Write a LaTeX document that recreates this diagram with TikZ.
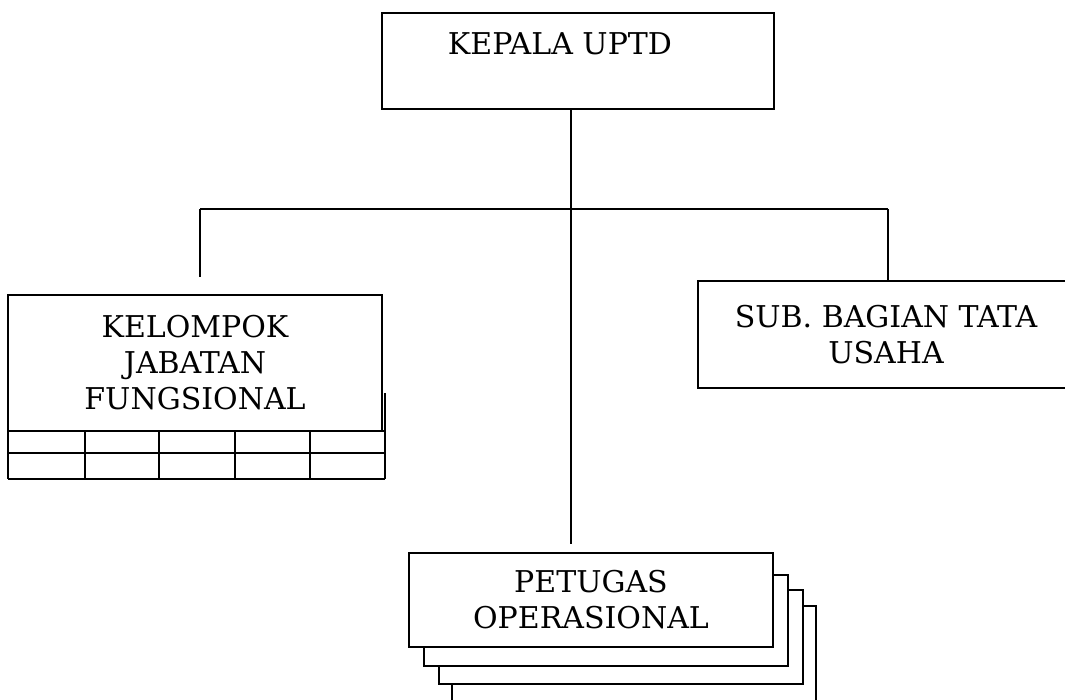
\documentclass[tikz,border=0pt]{standalone}
\usepackage{fontspec}
\setmainfont{DejaVu Serif}
\begin{document}
\begin{tikzpicture}[x=0.75pt,y=-0.75pt,
  box/.style={draw=black,line width=1pt,fill=white,inner sep=0pt,align=center,font=\fontsize{22.5}{27}\selectfont},
  conn/.style={draw=black,line width=0.9pt},
  grid/.style={draw=black,line width=1pt}]
\useasboundingbox (0,0) rectangle (1065,700);
\clip (0,0) rectangle (1065,700);
% table under kelompok
\draw[grid] (8,431) -- (385,431) (8,453) -- (385,453) (8,479) -- (385,479);
\foreach \x in {8,85,159,235,310} \draw[grid] (\x,431) -- (\x,479);
\draw[grid] (385,393) -- (385,479);
% boxes
\node[box,minimum width=294pt,minimum height=72pt] (kepala) at (578,61) {};
\node[font=\fontsize{22.5}{27}\selectfont] (kepalat) at (560,44) {KEPALA UPTD};
\node[box,minimum width=280.5pt,minimum height=102pt] (kelompok) at (195,363) {KELOMPOK\\JABATAN\\FUNGSIONAL};
\node[box,minimum width=282pt,minimum height=80.25pt] (sub) at (886,334.5) {SUB. BAGIAN TATA\\USAHA};
% stacked petugas
\node[box,minimum width=273pt,minimum height=72pt] (p4) at (634,654) {};
\node[box,minimum width=273pt,minimum height=70.5pt] (p3) at (621,637) {};
\node[box,minimum width=273pt,minimum height=68.25pt] (p2) at (606,620.5) {};
\node[box,minimum width=273pt,minimum height=70.5pt] (petugas) at (591,600) {PETUGAS\\OPERASIONAL};
% connectors
\coordinate (j) at (571,209);
\coordinate (hl) at (200,209);
\coordinate (hr) at (888,209);
\coordinate (lend) at (200,277);
\coordinate (pend) at (571,544);
\draw[conn] (kepala.south -| j) -- (pend);
\draw[conn] (hl) -- (hr);
\draw[conn] (hl) -- (lend);
\draw[conn] (hr) -- (sub.north -| hr);
\end{tikzpicture}
\end{document}
